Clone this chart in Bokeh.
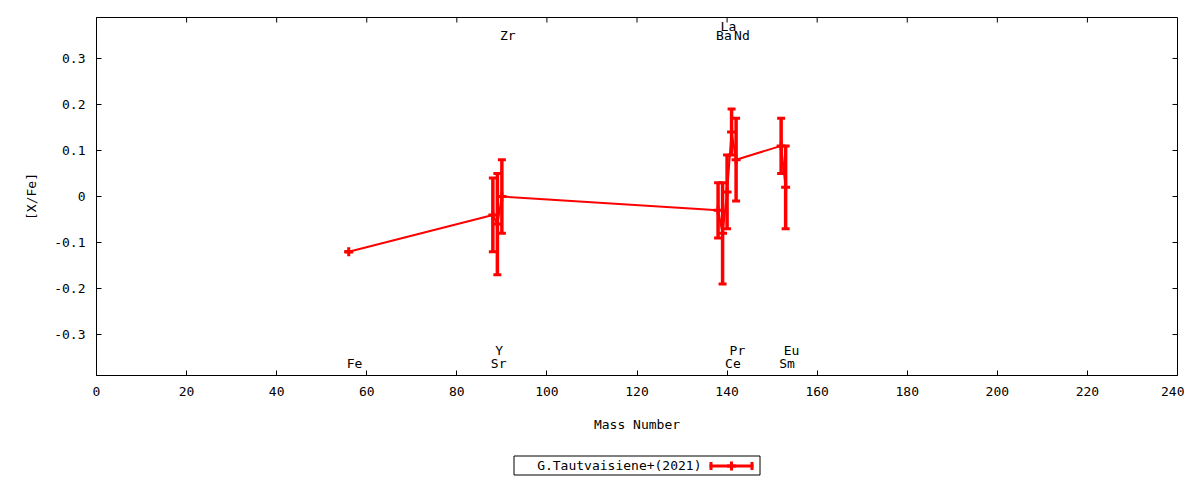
from bokeh.plotting import figure
from bokeh.models import Range1d, FixedTicker, ColumnDataSource
from bokeh.layouts import column
from bokeh.embed import file_html
from bokeh.resources import INLINE
from bokeh.core.properties import value

# ---- data ----
elements = ["Fe", "Sr", "Y", "Zr", "Ba", "La", "Ce", "Pr", "Nd", "Sm", "Eu"]
mass_number = [56, 88, 89, 90, 138, 139, 140, 141, 142, 152, 153]
x_fe = [-0.12, -0.04, -0.06, 0.00, -0.03, -0.08, 0.01, 0.14, 0.08, 0.11, 0.02]
x_fe_err = [0.00, 0.08, 0.11, 0.08, 0.06, 0.11, 0.08, 0.05, 0.09, 0.06, 0.09]
# label row: 0 = bottom lower, 1 = bottom upper, 2 = top lower, 3 = top upper
label_row = [0, 0, 1, 2, 2, 3, 0, 1, 2, 0, 1]
series_name = "G.Tautvaisiene+(2021)"
x_ticks = [0, 20, 40, 60, 80, 100, 120, 140, 160, 180, 200, 220, 240]
y_ticks = [-0.3, -0.2, -0.1, 0.0, 0.1, 0.2, 0.3]
y_tick_labels = ["-0.3", "-0.2", "-0.1", "0", "0.1", "0.2", "0.3"]

FONT = "DejaVu Sans Mono"
FS = "13px"
RED = "#ff0000"
row_y = {0: -0.363, 1: -0.335, 2: 0.350, 3: 0.370}

XMIN, XMAX = 0, 240
YMIN, YMAX = -0.389, 0.389
W = 1184
H_MAIN = 442
FRAME_L, FRAME_R, FRAME_T, FRAME_B = 96, 1177, 17, 375

p = figure(width=W, height=H_MAIN, output_backend="svg", toolbar_location=None,
           x_range=Range1d(XMIN, XMAX), y_range=Range1d(YMIN, YMAX),
           min_border_left=FRAME_L, min_border_right=W - FRAME_R,
           min_border_top=FRAME_T, min_border_bottom=H_MAIN - FRAME_B)
p.background_fill_color = "white"
p.border_fill_color = "white"
p.outline_line_color = "black"
p.outline_line_width = 1
p.grid.visible = False

src = ColumnDataSource(dict(
    x=mass_number, y=x_fe,
    lo=[v - e for v, e in zip(x_fe, x_fe_err)],
    hi=[v + e for v, e in zip(x_fe, x_fe_err)],
    name=elements,
    ly=[row_y[r] for r in label_row],
))

p.line("x", "y", source=src, line_color=RED, line_width=2)
p.segment(x0="x", y0="lo", x1="x", y1="hi", source=src, line_color=RED, line_width=3.5)
p.scatter("x", "lo", source=src, marker="dash", size=8, line_color=RED, line_width=3)
p.scatter("x", "hi", source=src, marker="dash", size=8, line_color=RED, line_width=3)
p.scatter("x", "y", source=src, marker="cross", size=9, line_color=RED, line_width=3)

p.text("x", "ly", text="name", source=src, text_align="left", text_baseline="middle",
       x_offset=-2, text_font=value(FONT), text_font_size=FS, text_color="black")

# mirror ticks on top and right edges (5 px inward)
px_per_x = (FRAME_R - FRAME_L) / (XMAX - XMIN)
px_per_y = (FRAME_B - FRAME_T) / (YMAX - YMIN)
tx = 5 / px_per_x
ty = 5 / px_per_y
p.segment(x0=x_ticks, y0=[YMAX] * len(x_ticks), x1=x_ticks, y1=[YMAX - ty] * len(x_ticks),
          line_color="black", line_width=1)
p.segment(x0=[XMAX] * len(y_ticks), y0=y_ticks, x1=[XMAX - tx] * len(y_ticks), y1=y_ticks,
          line_color="black", line_width=1)

for ax in p.xaxis:
    ax.ticker = FixedTicker(ticks=x_ticks)
    ax.axis_label = "Mass Number"
    ax.major_label_standoff = 11
    ax.axis_label_standoff = 18
for ax in p.yaxis:
    ax.ticker = FixedTicker(ticks=y_ticks)
    ax.major_label_overrides = {t: l for t, l in zip(y_ticks, y_tick_labels)}
    ax.axis_label = "[X/Fe]"
    ax.major_label_standoff = 11
    ax.axis_label_standoff = 12

for ax in list(p.xaxis) + list(p.yaxis):
    ax.major_tick_in = 5
    ax.major_tick_out = 0
    ax.minor_tick_line_color = None
    ax.axis_line_color = "black"
    ax.major_tick_line_color = "black"
    ax.major_label_text_font = FONT
    ax.major_label_text_font_size = FS
    ax.major_label_text_color = "black"
    ax.axis_label_text_font = FONT
    ax.axis_label_text_font_size = FS
    ax.axis_label_text_font_style = "normal"
    ax.axis_label_text_color = "black"

# ---- legend (drawn in its own small canvas, pixel coordinates; frame aligned with main frame) ----
LH = 480 - H_MAIN
lg = figure(width=W, height=LH, output_backend="svg", toolbar_location=None,
            x_range=Range1d(FRAME_L, FRAME_R), y_range=Range1d(H_MAIN + LH, H_MAIN),
            x_axis_location=None, y_axis_location=None,
            min_border_left=FRAME_L, min_border_right=W - FRAME_R,
            min_border_top=0, min_border_bottom=0)
lg.outline_line_color = None
lg.grid.visible = False
lg.background_fill_color = "white"
lg.border_fill_color = "white"
lg.quad(left=[513.5], right=[759.5], top=[455.5], bottom=[474.5], fill_color=None,
        line_color="black", line_width=1)
lg.text(x=[701], y=[465], text=[series_name], text_align="right", text_baseline="middle",
        text_font=value(FONT), text_font_size=FS, text_color="black")
sy = 465.5
lg.segment(x0=[709], y0=[sy], x1=[753], y1=[sy], line_color=RED, line_width=3)
lg.segment(x0=[710.5, 751.5], y0=[sy - 4, sy - 4], x1=[710.5, 751.5], y1=[sy + 4, sy + 4],
           line_color=RED, line_width=3)
lg.scatter(x=[731], y=[sy], marker="cross", size=9, line_color=RED, line_width=3)

layout = column(p, lg, spacing=0)
open("out.html", "w").write(file_html(layout, INLINE))
